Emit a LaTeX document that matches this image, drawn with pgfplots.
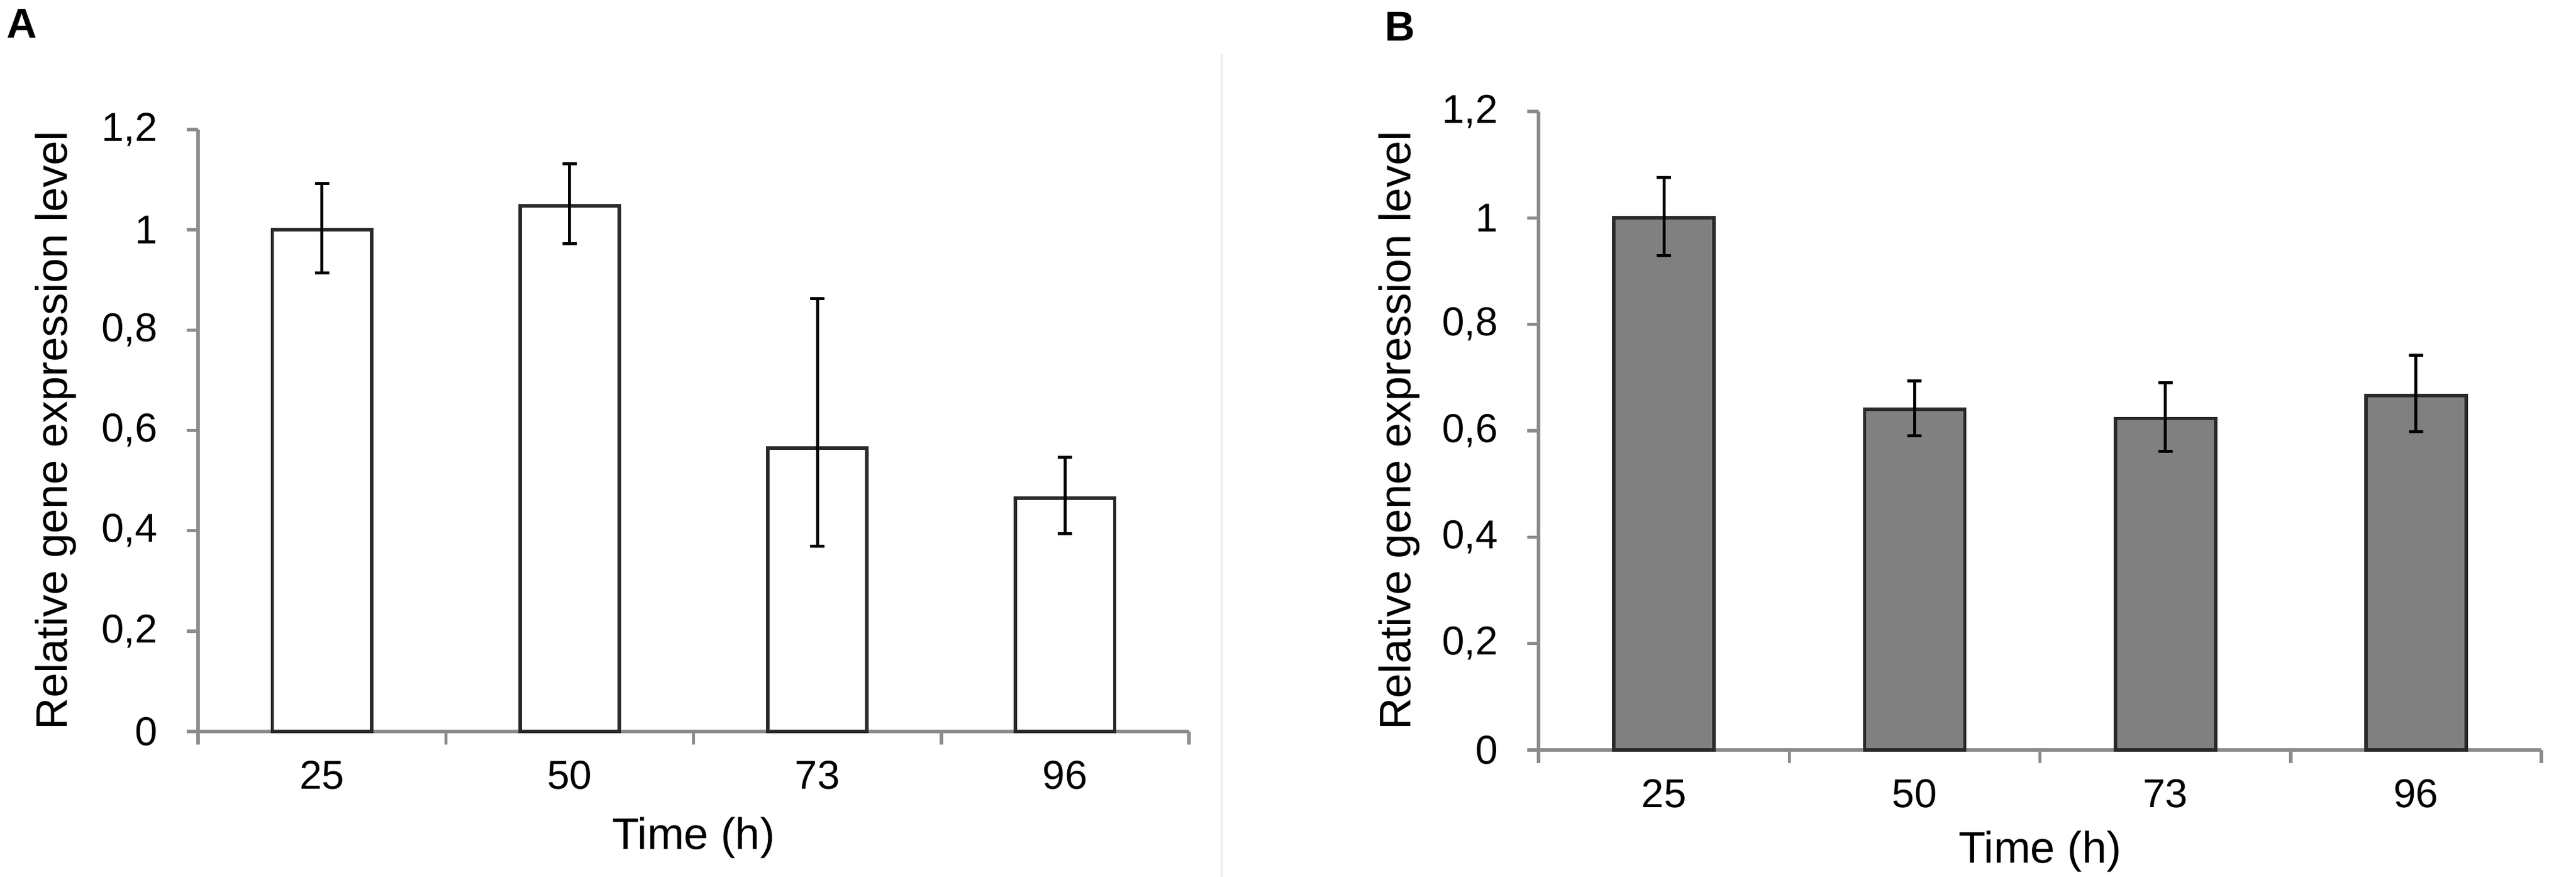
\documentclass[border=0pt]{standalone}
\usepackage{fontspec}
\setmainfont{Liberation Sans}
\usepackage{pgfplots}
\usepackage{pgfplotstable}
\pgfplotsset{compat=1.18}
\definecolor{axgray}{HTML}{8C8C8C}
\definecolor{bargray}{HTML}{808080}
\definecolor{edge}{HTML}{2A2A2A}
\pgfplotstableread{
x y ep em
1 1.000 0.092 0.086
2 1.048 0.084 0.076
3 0.565 0.298 0.196
4 0.465 0.082 0.071
}\dataA
\pgfplotstableread{
x y ep em
1 1.000 0.076 0.071
2 0.640 0.054 0.050
3 0.623 0.067 0.062
4 0.666 0.076 0.068
}\dataB
\pgfplotsset{panel/.style={
  scale only axis, anchor=south west,
  axis lines*=left,
  xmin=0.5, xmax=4.5, ymin=0, ymax=1.2,
  ytick={0,0.2,0.4,0.6,0.8,1,1.2},
  yticklabels={0,{0,2},{0,4},{0,6},{0,8},1,{1,2}},
  xtick={1,2,3,4}, xticklabels={25,50,73,96},
  minor xtick={0.5,1.5,2.5,3.5,4.5},
  tick align=outside, tick pos=left,
  major tick length=3.8pt, minor tick length=4.4pt,
  axis line style={axgray, line width=1.1pt},
  every tick/.style={axgray, line width=1.1pt},
  major x tick style={draw=none},
  tick label style={font=\fontsize{13.5}{15}\selectfont},
  yticklabel style={anchor=east, inner sep=0pt, xshift=-9.6pt},
  xticklabel style={anchor=center, inner sep=0pt},
  label style={font=\fontsize{14.8}{17}\selectfont},
  ybar, bar width=0.4,
  clip=false,
}}
\begin{document}
\begin{tikzpicture}
\path[use as bounding box] (0pt,0pt) rectangle (863.6pt,294pt);
\fill[white] (0pt,0pt) rectangle (863.6pt,294pt);
\draw[black!8, line width=0.6pt] (409.4pt,0pt) -- (409.4pt,276pt);
\node[anchor=north west, inner sep=0pt, font=\fontsize{14}{16}\selectfont\bfseries] at (2.2pt,291.2pt) {A};
\node[anchor=north west, inner sep=0pt, font=\fontsize{14}{16}\selectfont\bfseries] at (464pt,290.2pt) {B};
\begin{axis}[panel, at={(66.4pt,48.8pt)}, width=332.2pt, height=201.8pt,
  xlabel={Time (h)}, ylabel={Relative gene expression level},
  xticklabel style={yshift=-10.8pt},
  xlabel style={at={(axis description cs:0.5,0)}, anchor=center, yshift=-35.6pt},
  ylabel style={at={(axis description cs:0,0.5)}, anchor=center, yshift=47.8pt},
]
\addplot[fill=white, draw=edge, line width=1.15pt,
  error bars/.cd, y dir=both, y explicit,
  error bar style={black, line width=1.0pt},
  error mark options={rotate=90, mark size=2.4pt, black, line width=1.0pt}]
  table[x=x, y=y, y error plus=ep, y error minus=em] {\dataA};
\end{axis}
\begin{axis}[panel, at={(515.8pt,42.6pt)}, width=336.2pt, height=214pt,
  xlabel={Time (h)}, ylabel={Relative gene expression level},
  xticklabel style={yshift=-10.8pt},
  xlabel style={at={(axis description cs:0.5,0)}, anchor=center, yshift=-34pt},
  ylabel style={at={(axis description cs:0,0.5)}, anchor=center, yshift=46.8pt},
]
\addplot[fill=bargray, draw=edge, line width=1.15pt,
  error bars/.cd, y dir=both, y explicit,
  error bar style={black, line width=1.0pt},
  error mark options={rotate=90, mark size=2.4pt, black, line width=1.0pt}]
  table[x=x, y=y, y error plus=ep, y error minus=em] {\dataB};
\end{axis}
\end{tikzpicture}
\end{document}
